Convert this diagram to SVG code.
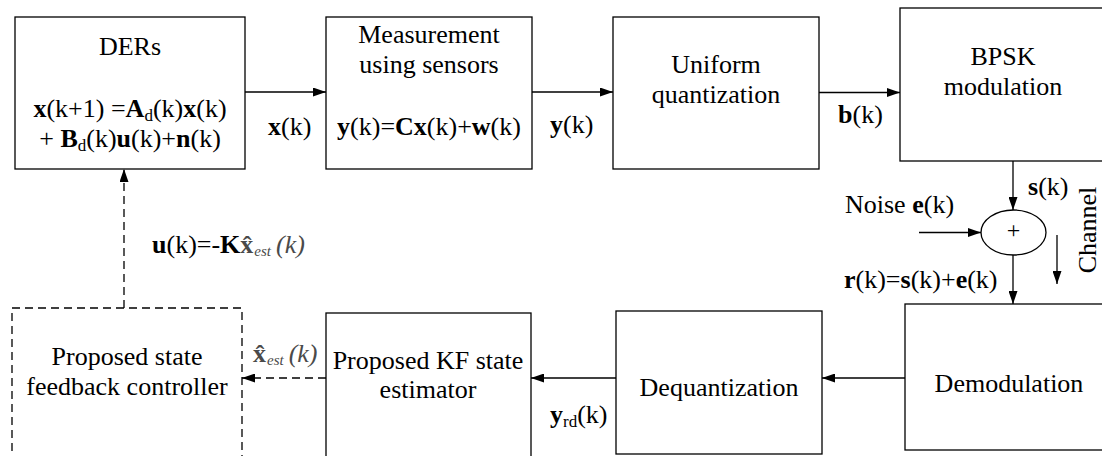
<svg xmlns="http://www.w3.org/2000/svg" width="1102" height="456" viewBox="0 0 1102 456">
  <style>
    text { font-family: "Liberation Serif", Tinos, "Times New Roman", "DejaVu Serif", serif; font-size: 26px; fill: #000; }
    .c { text-anchor: middle; }
    .b { font-weight: bold; }
    .sub { font-size: 17px; }
    .est { font-size: 15px; font-style: italic; }
    .it { font-style: italic; }
    .m { fill: #4a4a4a; }
    .box { fill: #fff; stroke: #000; stroke-width: 1.3; }
    .dash { stroke-dasharray: 8 5; }
    .wire { fill: none; stroke: #000; stroke-width: 1.3; marker-end: url(#ah); }
  </style>
  <defs>
    <marker id="ah" markerWidth="13" markerHeight="9" refX="13" refY="4.5" orient="auto" markerUnits="userSpaceOnUse">
      <path d="M0,0 L13,4.5 L0,9 z" fill="#000"/>
    </marker>
  </defs>

  <rect width="1102" height="456" fill="#fff"/>

  <!-- blocks -->
  <g id="ders">
    <rect class="box" x="15" y="17" width="230" height="152"/>
    <text class="c" x="130" y="55">DERs</text>
    <text class="c" x="130" y="117"><tspan class="b">x</tspan>(k+1) =<tspan class="b">A</tspan><tspan class="sub" dy="4">d</tspan><tspan dy="-4">(k)</tspan><tspan class="b">x</tspan>(k)</text>
    <text class="c" x="130" y="147">+ <tspan class="b">B</tspan><tspan class="sub" dy="4">d</tspan><tspan dy="-4">(k)</tspan><tspan class="b">u</tspan>(k)+<tspan class="b">n</tspan>(k)</text>
  </g>

  <g id="measurement">
    <rect class="box" x="326" y="17" width="206" height="152"/>
    <text class="c" x="429" y="43">Measurement</text>
    <text class="c" x="429" y="73">using sensors</text>
    <text class="c" x="429" y="135"><tspan class="b">y</tspan>(k)=<tspan class="b">Cx</tspan>(k)+<tspan class="b">w</tspan>(k)</text>
  </g>

  <g id="quantizer">
    <rect class="box" x="613" y="17" width="206" height="152"/>
    <text class="c" x="716" y="73">Uniform</text>
    <text class="c" x="716" y="103">quantization</text>
  </g>

  <g id="bpsk">
    <rect class="box" x="900" y="8" width="215" height="153"/>
    <text class="c" x="1003" y="65">BPSK</text>
    <text class="c" x="1003" y="95">modulation</text>
  </g>

  <g id="adder">
    <ellipse class="box" cx="1013.5" cy="232.5" rx="32.5" ry="22.5"/>
    <text class="c" x="1013.5" y="238" style="font-size:24px">+</text>
  </g>

  <g id="demodulation">
    <rect class="box" x="905" y="304" width="210" height="146"/>
    <text class="c" x="1009" y="392">Demodulation</text>
  </g>

  <g id="dequantization">
    <rect class="box" x="616" y="311" width="206" height="143"/>
    <text class="c" x="719" y="396">Dequantization</text>
  </g>

  <g id="kf-estimator">
    <rect class="box" x="326" y="313" width="205" height="160"/>
    <text class="c" x="428" y="369">Proposed KF state</text>
    <text class="c" x="428" y="398">estimator</text>
  </g>

  <g id="controller">
    <rect class="box dash" x="12" y="308" width="230" height="160"/>
    <text class="c" x="127" y="365">Proposed state</text>
    <text class="c" x="127" y="395">feedback controller</text>
  </g>

  <!-- connectors -->
  <g id="connectors">
    <line class="wire" x1="245" y1="92" x2="326" y2="92"/>
    <line class="wire" x1="532" y1="92" x2="613" y2="92"/>
    <line class="wire" x1="819" y1="92.5" x2="900" y2="92.5"/>
    <line class="wire" x1="1013" y1="161" x2="1013" y2="210"/>
    <line class="wire" x1="919" y1="232.5" x2="981" y2="232.5"/>
    <line class="wire" x1="1013" y1="255" x2="1013" y2="304"/>
    <line class="wire" x1="1057" y1="235" x2="1057" y2="284"/>
    <line class="wire" x1="905" y1="378" x2="822" y2="378"/>
    <line class="wire" x1="616" y1="378" x2="531" y2="378"/>
    <line class="wire dash" x1="326" y1="378" x2="242" y2="378"/>
    <line class="wire dash" x1="124" y1="308" x2="124" y2="169"/>
  </g>

  <!-- signal labels -->
  <g id="labels">
    <text x="268" y="135"><tspan class="b">x</tspan>(k)</text>
    <text x="550" y="133"><tspan class="b">y</tspan>(k)</text>
    <text x="838" y="123"><tspan class="b">b</tspan>(k)</text>
    <text x="1028" y="195"><tspan class="b">s</tspan>(k)</text>
    <text x="845" y="213">Noise <tspan class="b">e</tspan>(k)</text>
    <text x="844" y="288"><tspan class="b">r</tspan>(k)=<tspan class="b">s</tspan>(k)+<tspan class="b">e</tspan>(k)</text>
    <text class="c" transform="translate(1096,230) rotate(-90)">Channel</text>
    <text x="550" y="423"><tspan class="b">y</tspan><tspan class="sub" dy="4">rd</tspan><tspan dy="-4">(k)</tspan></text>
    <text x="253" y="362" class="m"><tspan class="b">x&#770;</tspan><tspan class="est" dy="3" dx="1">est</tspan><tspan class="it" dy="-3" dx="5">(k)</tspan></text>
    <text x="152" y="253"><tspan class="b">u</tspan>(k)=-<tspan class="b">K</tspan><tspan class="b m">x&#770;</tspan><tspan class="est m" dy="3" dx="1">est</tspan><tspan class="it m" dy="-3" dx="5">(k)</tspan></text>
  </g>
</svg>
